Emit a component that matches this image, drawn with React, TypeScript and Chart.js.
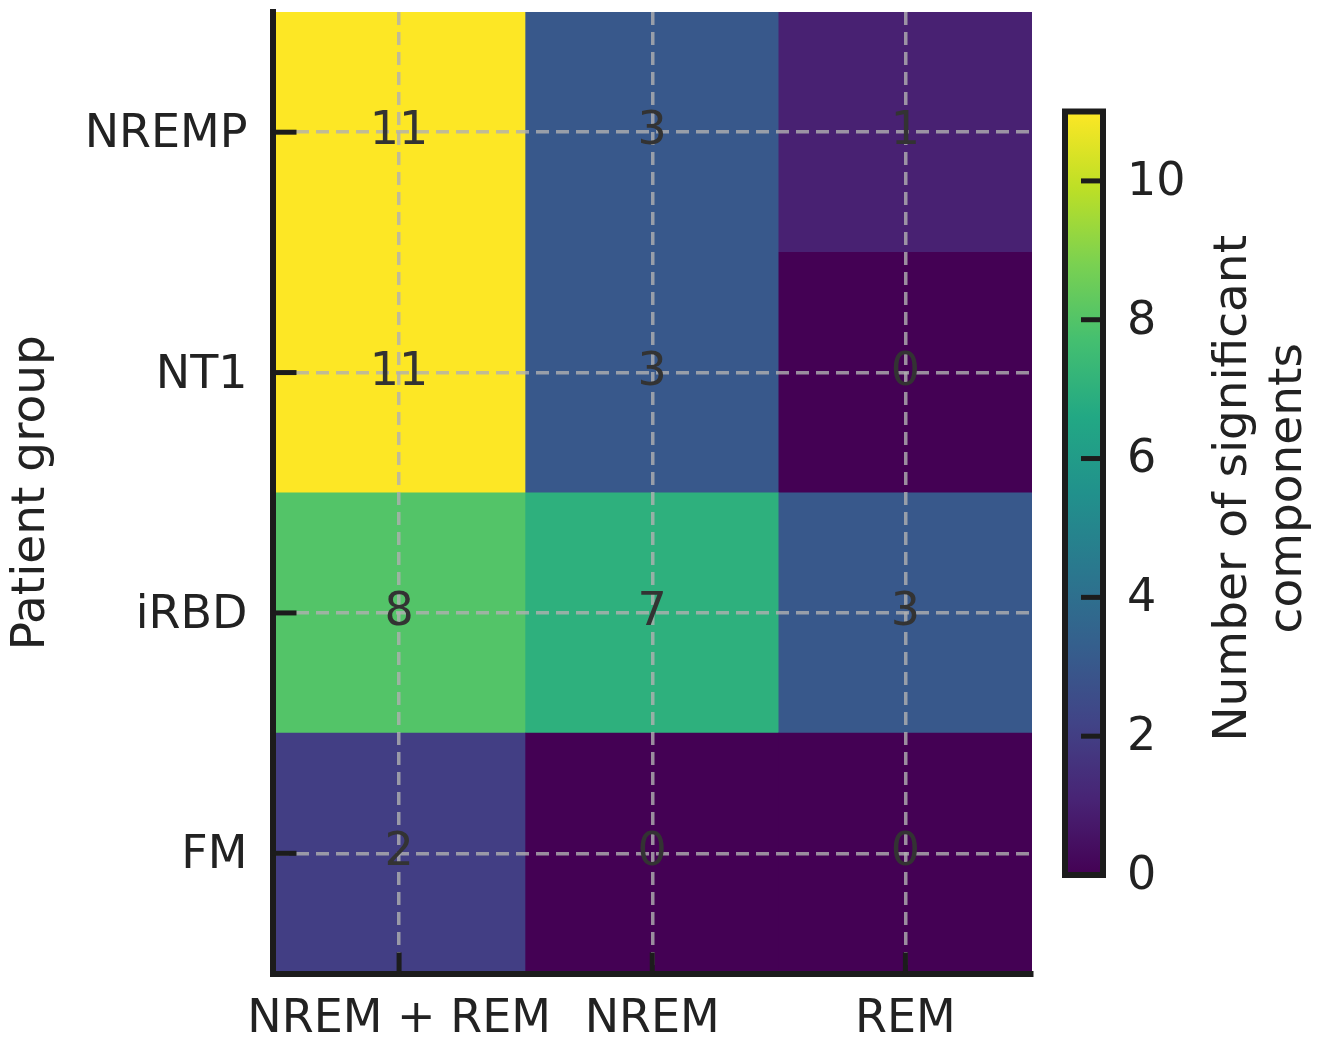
import React, { useEffect, useRef } from 'react';
import { Chart, registerables } from 'chart.js';

Chart.register(...registerables);

// ---- data ----
const patientGroups = ['NREMP', 'NT1', 'iRBD', 'FM'];
const sleepStages = ['NREM + REM', 'NREM', 'REM'];
const countsNREMP = [11, 3, 1];
const countsNT1 = [11, 3, 0];
const countsIRBD = [8, 7, 3];
const countsFM = [2, 0, 0];
const countsByGroup = [countsNREMP, countsNT1, countsIRBD, countsFM];
const colorbarTicks = [0, 2, 4, 6, 8, 10];
const colorMin = 0;
const colorMax = 11;
const yTitle = 'Patient group';
const colorbarTitle = ['Number of significant', 'components'];

// ---- style ----
const FONT = "'DejaVu Sans', sans-serif";
const TEXT = '#222222';
const SPINE = '#1c1c1c';
const GRID = 'rgba(176,176,176,0.8)';
const VIRIDIS = ['#440154', '#482475', '#414487', '#355f8d', '#2a788e', '#21918c', '#22a884', '#44bf70', '#7ad151', '#bddf26', '#fde725'];

function hexToRgb(h: string) {
  const n = parseInt(h.slice(1), 16);
  return [(n >> 16) & 255, (n >> 8) & 255, n & 255];
}
function viridis(t: number) {
  const c = Math.max(0, Math.min(1, t)) * (VIRIDIS.length - 1);
  const i = Math.min(Math.floor(c), VIRIDIS.length - 2);
  const f = c - i;
  const a = hexToRgb(VIRIDIS[i]);
  const b = hexToRgb(VIRIDIS[i + 1]);
  const m = a.map((v, k) => Math.round(v + (b[k] - v) * f));
  return `rgb(${m[0]},${m[1]},${m[2]})`;
}
const colorFor = (v: number) => viridis((v - colorMin) / (colorMax - colorMin));

const zeroPad = (s: any) => {
  s.paddingTop = 0;
  s.paddingBottom = 0;
  s.paddingLeft = 0;
  s.paddingRight = 0;
};

const heatDecor = {
  id: 'heatDecor',
  afterDraw(chart: any) {
    const { ctx, chartArea } = chart;
    const xs = chart.scales.x;
    const ys = chart.scales.y;
    ctx.save();
    // inward ticks
    ctx.strokeStyle = SPINE;
    ctx.lineWidth = 5;
    ctx.lineCap = 'butt';
    xs.ticks.forEach((_: any, i: number) => {
      const px = xs.getPixelForTick(i);
      ctx.beginPath();
      ctx.moveTo(px, chartArea.bottom);
      ctx.lineTo(px, chartArea.bottom - 21);
      ctx.stroke();
    });
    ys.ticks.forEach((_: any, i: number) => {
      const py = ys.getPixelForTick(i);
      ctx.beginPath();
      ctx.moveTo(chartArea.left, py);
      ctx.lineTo(chartArea.left + 24, py);
      ctx.stroke();
    });
    // annotations
    ctx.fillStyle = '#333333';
    ctx.font = `46px ${FONT}`;
    ctx.textAlign = 'center';
    ctx.textBaseline = 'middle';
    chart.data.datasets.forEach((ds: any, d: number) => {
      const meta = chart.getDatasetMeta(d);
      meta.data.forEach((el: any, j: number) => {
        const p = el.getProps(['x', 'y', 'base'], true);
        ctx.fillText(String(ds.counts[j]), p.x, (p.y + p.base) / 2);
      });
    });
    ctx.restore();
  },
};

const colorbarDecor = {
  id: 'colorbarDecor',
  afterDraw(chart: any) {
    const { ctx, chartArea } = chart;
    const ys = chart.scales.y;
    ctx.save();
    ctx.strokeStyle = SPINE;
    ctx.lineWidth = 5;
    colorbarTicks.forEach((v) => {
      const py = ys.getPixelForValue(v);
      ctx.beginPath();
      ctx.moveTo(chartArea.right - 22, py);
      ctx.lineTo(chartArea.right, py);
      ctx.stroke();
    });
    ctx.lineWidth = 6;
    ctx.strokeRect(chartArea.left, chartArea.top, chartArea.right - chartArea.left, chartArea.bottom - chartArea.top);
    // rotated label
    ctx.fillStyle = TEXT;
    ctx.font = `47px ${FONT}`;
    ctx.textAlign = 'center';
    ctx.textBaseline = 'alphabetic';
    ctx.translate(1246, (chartArea.top + chartArea.bottom) / 2 - 5);
    ctx.rotate(-Math.PI / 2);
    colorbarTitle.forEach((line, i) => ctx.fillText(line, 0, i * 55));
    ctx.restore();
  },
};

export default function App() {
  const mainRef = useRef<HTMLCanvasElement>(null);
  const cbRef = useRef<HTMLCanvasElement>(null);

  useEffect(() => {
    const datasets = patientGroups
      .map((g, i) => ({
        label: g,
        counts: countsByGroup[i],
        data: sleepStages.map(() => 1),
        backgroundColor: countsByGroup[i].map(colorFor),
        borderWidth: 0,
        barPercentage: 1,
        categoryPercentage: 1,
        stack: 'cells',
      }))
      .reverse();

    const tickFont = { family: FONT, size: 46 };

    const main = new Chart(mainRef.current as HTMLCanvasElement, {
      type: 'bar',
      data: { labels: sleepStages, datasets: datasets as any },
      options: {
        responsive: false,
        animation: false,
        layout: { padding: { top: 12, right: 295, bottom: 0, left: 0 } },
        plugins: { legend: { display: false }, tooltip: { enabled: false } },
        scales: {
          x: {
            type: 'category',
            stacked: true,
            offset: true,
            grid: { offset: false, color: GRID, lineWidth: 3.5, z: 1, drawTicks: false },
            border: { display: true, color: SPINE, width: 6, z: 2, dash: [13, 7] },
            ticks: { color: TEXT, font: tickFont, padding: 19, autoSkip: false, maxRotation: 0, minRotation: 0 },
            afterFit: (s: any) => { s.height = 64.5; zeroPad(s); },
          },
          y: {
            type: 'linear',
            stacked: true,
            min: 0,
            max: patientGroups.length,
            afterBuildTicks: (s: any) => {
              s.ticks = patientGroups.map((_, i) => ({ value: i + 0.5 }));
            },
            afterFit: (s: any) => { s.width = 272.5; zeroPad(s); },
            grid: { color: GRID, lineWidth: 3.5, z: 1, drawTicks: false },
            border: { display: true, color: SPINE, width: 6, z: 2, dash: [13, 7] },
            ticks: {
              color: TEXT,
              font: tickFont,
              padding: 25,
              labelOffset: 3,
              callback: (v: any) => patientGroups[patientGroups.length - 1 - Math.floor(Number(v))],
            },
            title: { display: true, text: yTitle, color: TEXT, font: { family: FONT, size: 47 }, padding: { top: 4, bottom: 0 } },
          },
        },
      } as any,
      plugins: [heatDecor],
    });

    const cb = new Chart(cbRef.current as HTMLCanvasElement, {
      type: 'bar',
      data: {
        labels: [''],
        datasets: [
          {
            data: [[colorMin, colorMax]] as any,
            backgroundColor: (c: any) => {
              const ch = c.chart;
              if (!ch.chartArea) return VIRIDIS[0];
              const ys = ch.scales.y;
              const g = ch.ctx.createLinearGradient(0, ys.getPixelForValue(colorMin), 0, ys.getPixelForValue(colorMax));
              VIRIDIS.forEach((col, i) => g.addColorStop(i / (VIRIDIS.length - 1), col));
              return g;
            },
            borderWidth: 0,
            barPercentage: 1,
            categoryPercentage: 1,
          },
        ],
      },
      options: {
        responsive: false,
        animation: false,
        layout: { padding: { top: 111.5, bottom: 163, left: 1065, right: 0 } },
        plugins: { legend: { display: false }, tooltip: { enabled: false } },
        scales: {
          x: { display: false, offset: true },
          y: {
            position: 'right',
            min: colorMin,
            max: colorMax,
            afterBuildTicks: (s: any) => { s.ticks = colorbarTicks.map((v) => ({ value: v })); },
            afterFit: (s: any) => { s.width = 224; zeroPad(s); },
            grid: { display: false, drawTicks: false },
            border: { display: false },
            ticks: { color: TEXT, font: tickFont, padding: 24, labelOffset: 2 },
          },
        },
      } as any,
      plugins: [colorbarDecor],
    });

    return () => {
      main.destroy();
      cb.destroy();
    };
  }, []);

  return (
    <div style={{ position: 'absolute', left: 0, top: 0, width: 1327, height: 1038, background: '#ffffff' }}>
      <canvas ref={mainRef} width={1327} height={1038} style={{ position: 'absolute', left: 0, top: 0 }} />
      <canvas ref={cbRef} width={1327} height={1038} style={{ position: 'absolute', left: 0, top: 0 }} />
    </div>
  );
}
